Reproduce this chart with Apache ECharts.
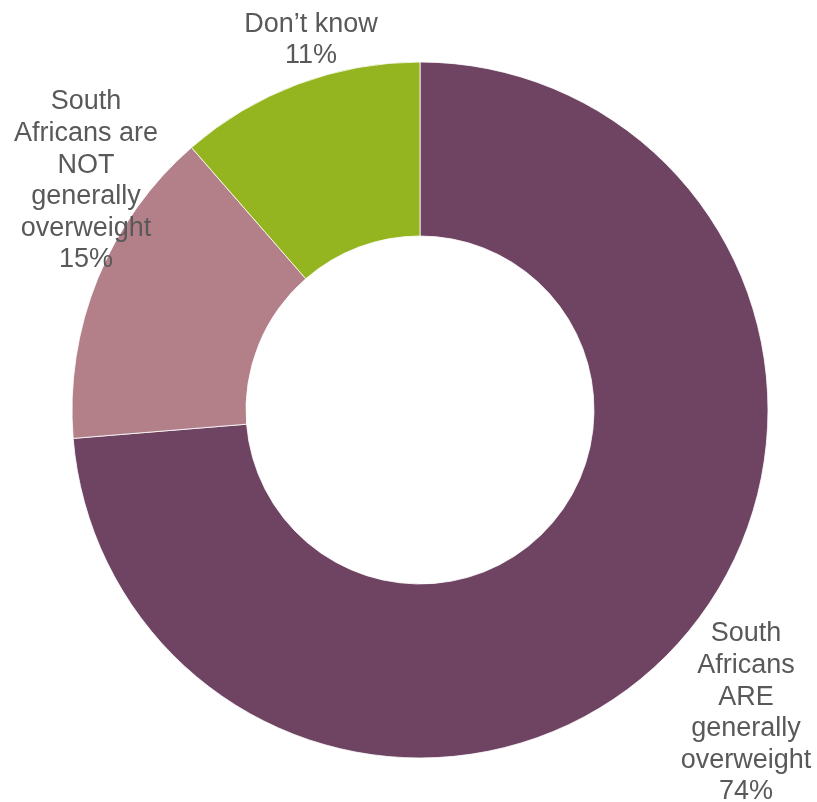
<!DOCTYPE html>
<html>
<head>
<meta charset="utf-8">
<script src="https://cdn.jsdelivr.net/npm/echarts@6/dist/echarts.min.js"></script>
<style>html,body{margin:0;padding:0;background:#fff;}#c{width:817px;height:802px;}</style>
</head>
<body>
<div id="c"></div>
<script>
const categories = [
  'South\nAfricans\nARE\ngenerally\noverweight',
  'South\nAfricans are\nNOT\ngenerally\noverweight',
  'Don\u2019t know'
];
const values = [73.7, 14.9, 11.4];
const colors = ['#6E4462', '#B3808A', '#94B51F'];
const labelPos = [[746, 713], [86, 181], [311, 40]];

const chart = echarts.init(document.getElementById('c'), null, {renderer: 'canvas'});
chart.setOption({
  animation: false,
  backgroundColor: '#ffffff',
  series: [{
    type: 'pie',
    center: [420, 410],
    radius: [174, 348],
    startAngle: 90,
    clockwise: true,
    avoidLabelOverlap: false,
    data: categories.map((n, i) => ({name: n, value: values[i], itemStyle: {color: colors[i]}})),
    itemStyle: {borderColor: '#ffffff', borderWidth: 0.8},
    label: {
      show: true,
      position: 'outside',
      formatter: p => p.name + '\n' + Math.round(p.value) + '%',
      color: '#595959',
      fontFamily: 'Liberation Sans, Arial, sans-serif',
      fontSize: 27,
      lineHeight: 31.6,
      align: 'center'
    },
    labelLine: {show: false},
    labelLayout: function (params) {
      const p = labelPos[params.dataIndex];
      return {x: p[0], y: p[1], align: 'center', verticalAlign: 'middle', moveOverlap: null};
    },
    emphasis: {disabled: true}
  }]
});
</script>
</body>
</html>
